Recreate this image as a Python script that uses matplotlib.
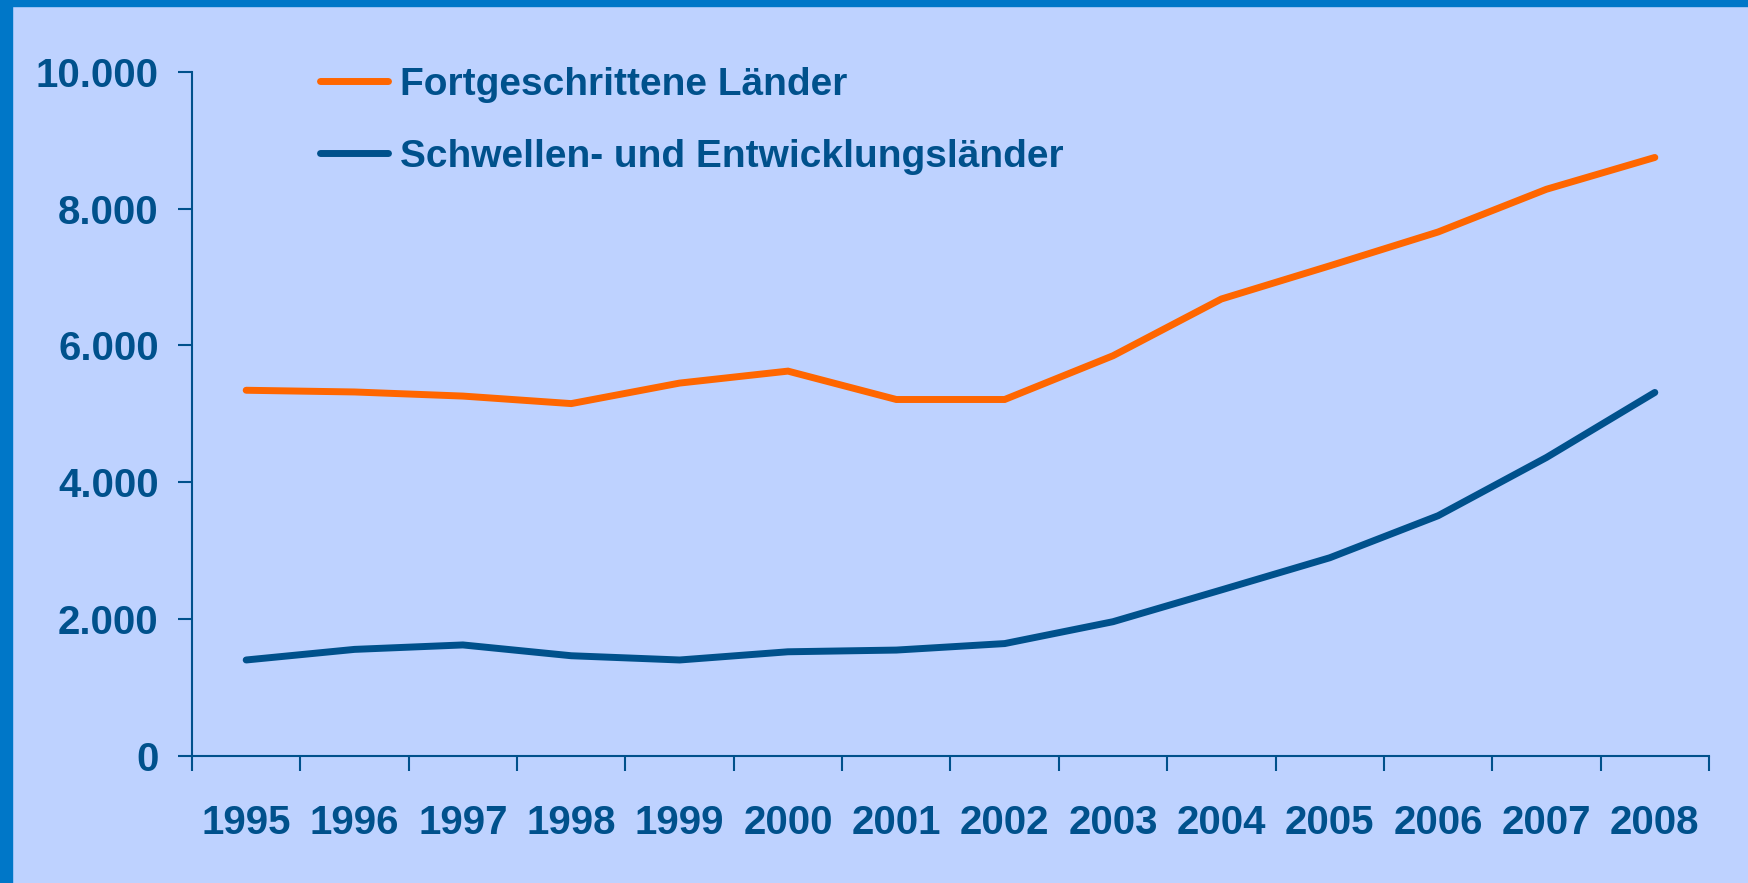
import matplotlib
matplotlib.use("Agg")
import matplotlib.pyplot as plt
from matplotlib.patches import Rectangle

# data
years = ['1995', '1996', '1997', '1998', '1999', '2000', '2001',
         '2002', '2003', '2004', '2005', '2006', '2007', '2008']
advanced = [5345, 5320, 5260, 5150, 5450, 5625, 5210,
            5210, 5850, 6680, 7165, 7660, 8285, 8750]
emerging = [1400, 1555, 1620, 1462, 1400, 1520, 1545,
            1640, 1960, 2425, 2895, 3510, 4362, 5313]
yticks = [0, 2000, 4000, 6000, 8000, 10000]
ytick_labels = ['0', '2.000', '4.000', '6.000', '8.000', '10.000']

bg = '#BED2FF'
navy = '#00518C'
orange = '#FF6600'
frame = '#0077C8'

plt.rcParams['font.family'] = ['Liberation Sans Narrow', 'Liberation Sans', 'DejaVu Sans']
plt.rcParams['font.weight'] = 'bold'

fig = plt.figure(figsize=(17.49, 8.83), dpi=100, facecolor=bg)
# blue frame on left and top
fig.add_artist(Rectangle((0, 0), 12 / 1749, 1, transform=fig.transFigure,
                         color=frame, zorder=0))
fig.add_artist(Rectangle((0, 1 - 6 / 883), 1, 6 / 883, transform=fig.transFigure,
                         color=frame, zorder=0))

ax = fig.add_axes([192 / 1749, 1 - 755.7 / 883, (1709 - 192) / 1749, (755.7 - 72) / 883])
ax.set_facecolor(bg)

x = [i + 0.5 for i in range(len(years))]
ax.plot(x, advanced, color=orange, lw=5, solid_capstyle='round',
        solid_joinstyle='miter', label='Fortgeschrittene Länder', clip_on=False)
ax.plot(x, emerging, color=navy, lw=5, solid_capstyle='round',
        solid_joinstyle='miter', label='Schwellen- und Entwicklungsländer', clip_on=False)

ax.set_xlim(0, len(years))
ax.set_ylim(0, 10000)

for s in ['top', 'right']:
    ax.spines[s].set_visible(False)
for s in ['left', 'bottom']:
    ax.spines[s].set_color(navy)
    ax.spines[s].set_linewidth(1.5)

ax.set_yticks(yticks)
ax.set_yticklabels(ytick_labels)
ax.tick_params(axis='y', direction='out', length=10, width=1.5, color=navy,
               labelcolor=navy, labelsize=29, pad=14)

ax.set_xticks(range(len(years) + 1))
ax.set_xticklabels([])
ax.set_xticks(x, minor=True)
ax.set_xticklabels(years, minor=True)
ax.tick_params(axis='x', which='major', direction='out', length=11, width=1.5, color=navy)
ax.tick_params(axis='x', which='minor', length=0, labelcolor=navy, labelsize=29, pad=35)
for lbl in ax.get_xticklabels(minor=True) + ax.get_yticklabels():
    lbl.set_fontweight('bold')

leg = ax.legend(loc='upper left', bbox_to_anchor=(320 / 1749, 1 - 67 / 883),
                bbox_transform=fig.transFigure, frameon=False, fontsize=28,
                handlelength=1.75, handletextpad=0.3, labelspacing=0.92,
                borderpad=0, borderaxespad=0)
for t in leg.get_texts():
    t.set_color(navy)
    t.set_fontweight('bold')
for h in leg.get_lines():
    h.set_linewidth(5)
    h.set_solid_capstyle('round')

fig.savefig('out.png', dpi=100, facecolor=bg)
